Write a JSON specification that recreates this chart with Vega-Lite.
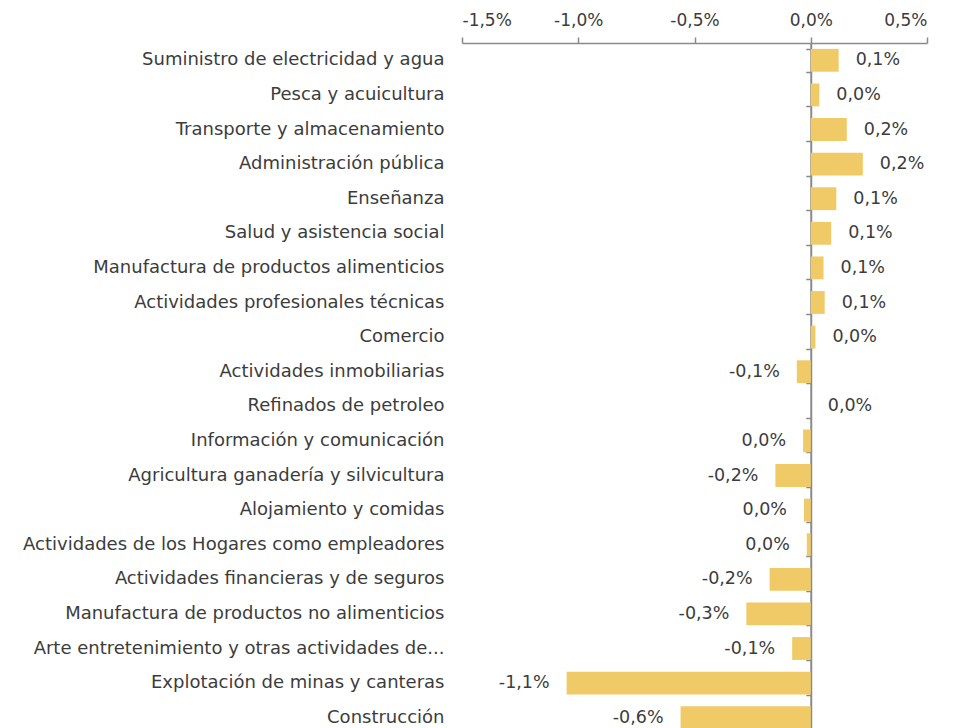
{
  "$schema": "https://vega.github.io/schema/vega-lite/v6.json",
  "autosize": "none",
  "width": 465,
  "height": 692,
  "padding": {"left": 462, "top": 43, "right": 28, "bottom": 0},
  "background": "white",
  "config": {
    "view": {"stroke": null},
    "font": "DejaVu Sans",
    "axis": {"labelFont": "DejaVu Sans", "labelColor": "#3c3c3c"}
  },
  "data": {
    "values": [
      {"sector": "Suministro de electricidad y agua", "valor": 0.12, "etiqueta": "0,1%"},
      {"sector": "Pesca y acuicultura", "valor": 0.037, "etiqueta": "0,0%"},
      {"sector": "Transporte y almacenamiento", "valor": 0.155, "etiqueta": "0,2%"},
      {"sector": "Administración pública", "valor": 0.224, "etiqueta": "0,2%"},
      {"sector": "Enseñanza", "valor": 0.11, "etiqueta": "0,1%"},
      {"sector": "Salud y asistencia social", "valor": 0.088, "etiqueta": "0,1%"},
      {"sector": "Manufactura de productos alimenticios", "valor": 0.055, "etiqueta": "0,1%"},
      {"sector": "Actividades profesionales técnicas", "valor": 0.06, "etiqueta": "0,1%"},
      {"sector": "Comercio", "valor": 0.02, "etiqueta": "0,0%"},
      {"sector": "Actividades inmobiliarias", "valor": -0.06, "etiqueta": "-0,1%"},
      {"sector": "Refinados de petroleo", "valor": 0.0, "etiqueta": "0,0%"},
      {"sector": "Información y comunicación", "valor": -0.033, "etiqueta": "0,0%"},
      {"sector": "Agricultura  ganadería y silvicultura", "valor": -0.152, "etiqueta": "-0,2%"},
      {"sector": "Alojamiento y comidas", "valor": -0.029, "etiqueta": "0,0%"},
      {"sector": "Actividades de los Hogares como empleadores", "valor": -0.017, "etiqueta": "0,0%"},
      {"sector": "Actividades financieras y de seguros", "valor": -0.177, "etiqueta": "-0,2%"},
      {"sector": "Manufactura de productos no alimenticios", "valor": -0.277, "etiqueta": "-0,3%"},
      {"sector": "Arte entretenimiento y otras actividades de...", "valor": -0.08, "etiqueta": "-0,1%"},
      {"sector": "Explotación de minas y canteras", "valor": -1.05, "etiqueta": "-1,1%"},
      {"sector": "Construcción", "valor": -0.56, "etiqueta": "-0,6%"}
    ]
  },
  "encoding": {
    "y": {"field": "sector", "type": "nominal", "sort": null,
          "scale": {"paddingInner": 0.34, "paddingOuter": 0.17}},
    "x": {"field": "valor", "type": "quantitative",
          "scale": {"domain": [-1.5, 0.5], "nice": false, "zero": false}}
  },
  "layer": [
    {
      "mark": {"type": "bar", "color": "#EFCA67"},
      "encoding": {
        "y": {"field": "sector", "type": "nominal", "sort": null,
              "axis": {"title": null, "domain": false, "ticks": false, "labelPadding": 18,
                       "labelFontSize": 18, "labelLimit": 500}},
        "x": {"field": "valor", "type": "quantitative",
              "axis": {"orient": "top", "title": null, "grid": false,
                       "values": [-1.5, -1.0, -0.5, 0, 0.5],
                       "labelExpr": "(datum.value < 0 ? '-' : '') + replace(format(abs(datum.value), '.1f'), '.', ',') + '%'",
                       "domainColor": "#8a8a8a", "domainWidth": 1.5,
                       "tickColor": "#8a8a8a", "tickWidth": 1.5, "tickSize": 6,
                       "labelPadding": 8, "labelFontSize": 17}}
      }
    },
    {
      "transform": [{"filter": "datum.valor >= 0"}],
      "mark": {"type": "text", "align": "left", "baseline": "middle", "dx": 17, "fontSize": 17.5, "color": "#3c3c3c", "font": "DejaVu Sans"},
      "encoding": {
        "text": {"field": "etiqueta"},
        "y": {"field": "sector", "type": "nominal", "sort": null,
              "axis": {"orient": "left", "offset": -348.75, "title": null, "labels": false,
                       "domain": true, "domainColor": "#8a8a8a", "domainWidth": 2,
                       "ticks": true, "tickBand": "extent", "tickColor": "#8a8a8a", "tickWidth": 1.5, "tickSize": 5}},
        "x": {"field": "valor", "type": "quantitative", "axis": null}
      }
    },
    {
      "transform": [{"filter": "datum.valor < 0"}],
      "mark": {"type": "text", "align": "right", "baseline": "middle", "dx": -17, "fontSize": 17.5, "color": "#3c3c3c", "font": "DejaVu Sans"},
      "encoding": {
        "text": {"field": "etiqueta"},
        "y": {"field": "sector", "type": "nominal", "sort": null, "axis": null},
        "x": {"field": "valor", "type": "quantitative", "axis": null}
      }
    }
  ],
  "resolve": {"axis": {"y": "independent", "x": "independent"}}
}
